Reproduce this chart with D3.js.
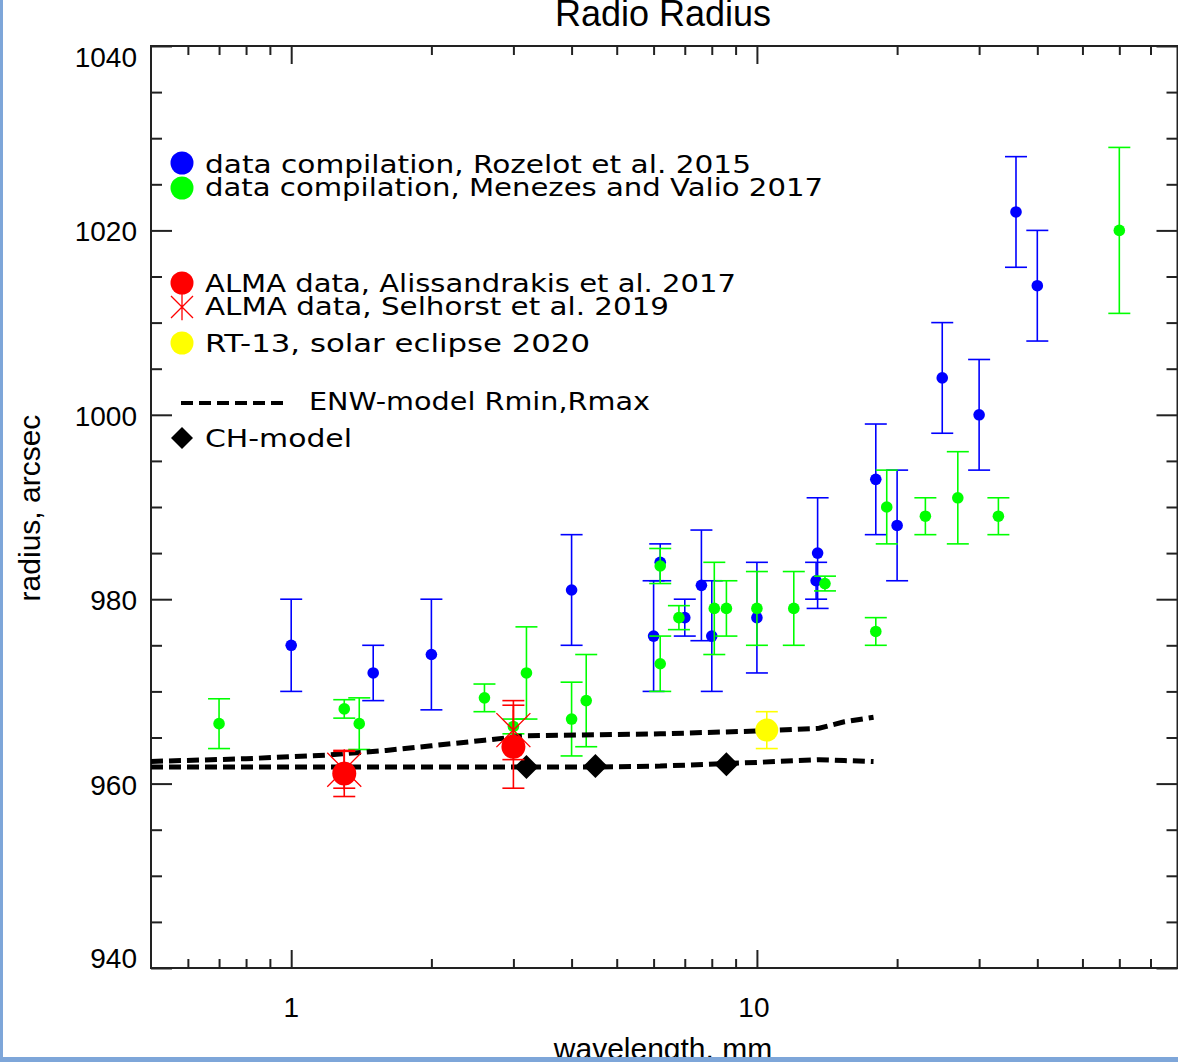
<!DOCTYPE html>
<html>
<head>
<meta charset="utf-8">
<script src="https://cdn.jsdelivr.net/npm/d3@7"></script>
<style>
  body { margin: 0; background: #fff; }
  svg { display: block; }
</style>
</head>
<body>
<script>
// Rozelot et al. 2015 compilation (blue)
var rozLam = [1.0, 1.5, 2.0, 4.0, 6.0, 6.2, 7.0, 7.6, 8.0, 10, 13.4, 13.5, 18, 20, 25, 30, 36, 40];
var rozR   = [975, 972, 974, 981, 976, 984, 978, 981.5, 976, 978, 982, 985, 993, 988, 1004, 1000, 1022, 1014];
var rozErr = [5, 3, 6, 6, 6, 2, 2, 6, 6, 6, 2, 6, 6, 6, 6, 6, 6, 6];

// Menezes and Valio 2017 compilation (green)
var menLam = [0.7, 1.3, 1.4, 2.6, 3.0, 3.2, 4.0, 4.3, 6.2, 6.2, 6.8, 8.1, 8.6, 10, 12, 14, 18, 19, 23, 27, 33, 60];
var menR   = [966.5, 968.1, 966.5, 969.3, 966.2, 972, 967, 969, 983.6, 973, 978, 979, 979, 979, 979, 981.7, 976.5, 990, 989, 991, 989, 1020];
var menErr = [2.7, 1, 2.8, 1.5, 0.8, 5, 4, 5, 1.9, 3, 1.3, 5, 3, 4, 4, 0.8, 1.5, 4, 2, 5, 2, 9];

// ALMA, Alissandrakis et al. 2017 (red dots)
var almaLam = [1.3, 3.0];
var almaR   = [961.1, 964.0];
var almaErr = [2.5, 4.5];

// ALMA, Selhorst et al. 2019 (red asterisks)
var selLam = [1.3, 3.0];
var selR   = [961.5, 965.8];
var selErr = [2, 3.2];

// RT-13, solar eclipse 2020 (yellow)
var rtLam = [10.5];
var rtR   = [965.8];
var rtErr = [2];

// ENW model, Rmin and Rmax
var enwLam  = [0.5, 0.8, 1.2, 1.6, 2.0, 2.6, 3.2, 4.6, 6.2, 10, 13.6, 15.4, 17.8];
var enwRmax = [962.4, 962.7, 963.1, 963.6, 964.1, 964.7, 965.2, 965.3, 965.4, 965.7, 966.0, 966.7, 967.2];
var enwRmin = [961.8, 961.8, 961.8, 961.8, 961.8, 961.8, 961.8, 961.8, 961.9, 962.3, 962.6, 962.5, 962.4];

// CH model
var chLam = [3.2, 4.5, 8.6];
var chR   = [961.8, 961.9, 962.1];

var xMajor = [1, 10];
var xMinor = [0.6, 0.7, 0.8, 0.9, 2, 3, 4, 5, 6, 7, 8, 9, 20, 30, 40, 50, 60, 70];
var yMajor = [940, 960, 980, 1000, 1020, 1040];
var yMinor = [945, 950, 955, 965, 970, 975, 985, 990, 995, 1005, 1010, 1015, 1025, 1030, 1035];

var legendTexts = [
  "data compilation, Rozelot et al. 2015",
  "data compilation, Menezes and Valio 2017",
  "ALMA data, Alissandrakis et al. 2017",
  "ALMA data, Selhorst et al. 2019",
  "RT-13, solar eclipse 2020",
  "ENW-model Rmin,Rmax",
  "CH-model"
];

var W = 1178, H = 1062;
var pLeft = 151, pRight = 1177.5, pTop = 46, pBottom = 968;

var svg = d3.select("body").append("svg")
    .attr("width", W)
    .attr("height", H);

svg.append("rect").attr("width", W).attr("height", H).attr("fill", "#fff");

var x = d3.scaleLog().domain([0.5, 80]).range([pLeft, pRight]);
var y = d3.scaleLinear().domain([940, 1040]).range([pBottom, pTop]);

var axisCol = "#222";
var tickFont = "'Liberation Sans', Arial, Helvetica, sans-serif";

function styleAxis(g) {
  g.select(".domain").remove();
  g.selectAll("line").attr("stroke", axisCol).attr("stroke-width", 2);
  g.selectAll("text").remove();
}

// ticks on all four sides, pointing in
svg.append("g").attr("transform", "translate(0," + pBottom + ")")
    .call(d3.axisBottom(x).tickValues(xMajor).tickSize(-18)).call(styleAxis);
svg.append("g").attr("transform", "translate(0," + pBottom + ")")
    .call(d3.axisBottom(x).tickValues(xMinor).tickSize(-9)).call(styleAxis);
svg.append("g").attr("transform", "translate(0," + pTop + ")")
    .call(d3.axisTop(x).tickValues(xMajor).tickSize(-18)).call(styleAxis);
svg.append("g").attr("transform", "translate(0," + pTop + ")")
    .call(d3.axisTop(x).tickValues(xMinor).tickSize(-9)).call(styleAxis);
svg.append("g").attr("transform", "translate(" + pLeft + ",0)")
    .call(d3.axisLeft(y).tickValues(yMajor).tickSize(-21)).call(styleAxis);
svg.append("g").attr("transform", "translate(" + pLeft + ",0)")
    .call(d3.axisLeft(y).tickValues(yMinor).tickSize(-11)).call(styleAxis);
svg.append("g").attr("transform", "translate(" + pRight + ",0)")
    .call(d3.axisRight(y).tickValues(yMajor).tickSize(-21)).call(styleAxis);
svg.append("g").attr("transform", "translate(" + pRight + ",0)")
    .call(d3.axisRight(y).tickValues(yMinor).tickSize(-11)).call(styleAxis);

svg.append("rect")
    .attr("x", pLeft).attr("y", pTop)
    .attr("width", pRight - pLeft).attr("height", pBottom - pTop)
    .attr("fill", "none").attr("stroke", axisCol).attr("stroke-width", 2);

// tick labels
svg.selectAll(".ylab").data(yMajor).enter().append("text")
    .attr("class", "ylab")
    .attr("x", 137)
    .attr("y", function(d) {
      if (d == 940) return y(d);
      if (d == 1040) return y(d) + 21;
      return y(d) + 11;
    })
    .attr("text-anchor", "end")
    .style("font-family", tickFont).style("font-size", "28px")
    .text(function(d) { return d; });

svg.selectAll(".xlab").data(xMajor).enter().append("text")
    .attr("class", "xlab")
    .attr("x", function(d) { return x(d) - (d == 10 ? 3 : 0); })
    .attr("y", 1017)
    .attr("text-anchor", "middle")
    .style("font-family", tickFont).style("font-size", "28px")
    .text(function(d) { return d; });

svg.append("text")
    .attr("x", 663).attr("y", 26)
    .attr("text-anchor", "middle")
    .style("font-family", tickFont).style("font-size", "36px")
    .text("Radio Radius");

svg.append("text")
    .attr("x", 663).attr("y", 1059)
    .attr("text-anchor", "middle")
    .style("font-family", tickFont).style("font-size", "30px")
    .text("wavelength, mm");

svg.append("text")
    .attr("transform", "translate(40,508) rotate(-90)")
    .attr("text-anchor", "middle")
    .style("font-family", tickFont).style("font-size", "30px")
    .text("radius, arcsec");

// points with error bars
function errSeries(lam, r, err, color, cap) {
  var data = lam.map(function(l, i) { return {l: l, r: r[i], e: err[i]}; });
  var g = svg.append("g");
  g.selectAll(".eb").data(data).enter().append("line")
      .attr("x1", function(d) { return x(d.l); })
      .attr("x2", function(d) { return x(d.l); })
      .attr("y1", function(d) { return y(d.r - d.e); })
      .attr("y2", function(d) { return y(d.r + d.e); })
      .attr("stroke", color).attr("stroke-width", 1.6);
  [-1, 1].forEach(function(s) {
    g.selectAll(".cap" + (s + 1)).data(data).enter().append("line")
        .attr("x1", function(d) { return x(d.l) - cap; })
        .attr("x2", function(d) { return x(d.l) + cap; })
        .attr("y1", function(d) { return y(d.r + s * d.e); })
        .attr("y2", function(d) { return y(d.r + s * d.e); })
        .attr("stroke", color).attr("stroke-width", 1.6);
  });
  return {g: g, data: data};
}

function dots(s, color, rad) {
  s.g.selectAll("circle").data(s.data).enter().append("circle")
      .attr("cx", function(d) { return x(d.l); })
      .attr("cy", function(d) { return y(d.r); })
      .attr("r", rad)
      .attr("fill", color);
}

var roz = errSeries(rozLam, rozR, rozErr, "#0000ff", 11);
dots(roz, "#0000ff", 5.8);
var men = errSeries(menLam, menR, menErr, "#00ff00", 11);
dots(men, "#00ff00", 5.8);

// ENW model dashed lines
var line = d3.line()
    .x(function(d) { return x(d[0]); })
    .y(function(d) { return y(d[1]); });

[enwRmax, enwRmin].forEach(function(arr) {
  svg.append("path")
      .datum(enwLam.map(function(l, i) { return [l, arr[i]]; }))
      .attr("d", line)
      .attr("fill", "none")
      .attr("stroke", "#000")
      .attr("stroke-width", 5)
      .attr("stroke-dasharray", "12,6");
});

function diamond(g, cx, cy, s) {
  g.append("path")
      .attr("d", "M" + cx + "," + (cy - s) + "L" + (cx + s) + "," + cy +
                 "L" + cx + "," + (cy + s) + "L" + (cx - s) + "," + cy + "Z")
      .attr("fill", "#000");
}

var chG = svg.append("g");
chLam.forEach(function(l, i) { diamond(chG, x(l), y(chR[i]), 12); });

var alma = errSeries(almaLam, almaR, almaErr, "#ff0000", 11);
dots(alma, "#ff0000", 12);

function asterisk(g, cx, cy, s, color) {
  var d = "M" + (cx - s) + "," + (cy - s) + "L" + (cx + s) + "," + (cy + s) +
          "M" + (cx + s) + "," + (cy - s) + "L" + (cx - s) + "," + (cy + s) +
          "M" + cx + "," + (cy - s * 1.2) + "L" + cx + "," + (cy + s * 1.2);
  g.append("path").attr("d", d).attr("stroke", color).attr("stroke-width", 1.3).attr("fill", "none");
}

var sel = errSeries(selLam, selR, selErr, "#ff0000", 11);
selLam.forEach(function(l, i) { asterisk(sel.g, x(l), y(selR[i]), 17, "#ff0000"); });

var rt = errSeries(rtLam, rtR, rtErr, "#ffff00", 11);
dots(rt, "#ffff00", 11.5);

// legend
var legFont = "'DejaVu Sans', Verdana, sans-serif";
var legRows = [
  {t: 0, x0: 205, x1: 751, y: 173},
  {t: 1, x0: 205, x1: 823, y: 196},
  {t: 2, x0: 205, x1: 736, y: 292},
  {t: 3, x0: 205, x1: 669, y: 315},
  {t: 4, x0: 205, x1: 590, y: 352},
  {t: 5, x0: 309, x1: 650, y: 410},
  {t: 6, x0: 205, x1: 352, y: 447}
];
var leg = svg.append("g");
leg.selectAll("text").data(legRows).enter().append("text")
    .attr("x", function(d) { return d.x0; })
    .attr("y", function(d) { return d.y; })
    .attr("textLength", function(d) { return d.x1 - d.x0; })
    .attr("lengthAdjust", "spacingAndGlyphs")
    .style("font-family", legFont).style("font-size", "25px")
    .text(function(d) { return legendTexts[d.t]; });

leg.append("circle").attr("cx", 182).attr("cy", 163).attr("r", 11.5).attr("fill", "#0000ff");
leg.append("circle").attr("cx", 182).attr("cy", 188).attr("r", 11.5).attr("fill", "#00ff00");
leg.append("circle").attr("cx", 182).attr("cy", 283).attr("r", 11.5).attr("fill", "#ff0000");
asterisk(leg, 182, 307, 11, "#ff0000");
leg.append("circle").attr("cx", 182).attr("cy", 343).attr("r", 11.5).attr("fill", "#ffff00");
leg.append("line").attr("x1", 181).attr("x2", 287).attr("y1", 403).attr("y2", 403)
    .attr("stroke", "#000").attr("stroke-width", 4).attr("stroke-dasharray", "12,6");
diamond(leg, 182, 438, 11);

// window frame strips
svg.append("rect").attr("x", 0).attr("y", 0).attr("width", 3).attr("height", H).attr("fill", "#7ea6d9");
svg.append("rect").attr("x", 0).attr("y", 1057).attr("width", W).attr("height", 5).attr("fill", "#7ea6d9");
</script>
</body>
</html>
